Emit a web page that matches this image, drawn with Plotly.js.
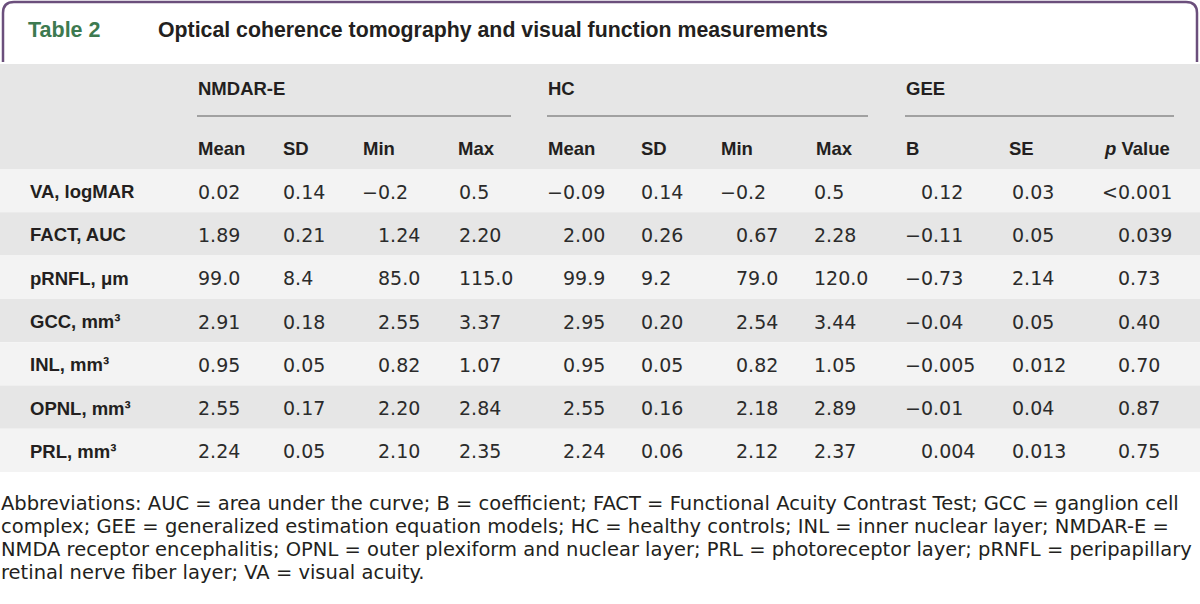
<!DOCTYPE html>
<html><head><meta charset="utf-8">
<script src="https://cdn.plot.ly/plotly-3.0.1.min.js"></script>
<style>html,body{margin:0;padding:0;background:#fff}#chart{width:1200px;height:604px}</style>
</head><body><div id="chart"></div>
<script>
// ---- data ----
const tableNumber = "Table 2";
const tableTitle = "Optical coherence tomography and visual function measurements";
const groupLabels = ["NMDAR-E", "HC", "GEE"];
const columnLabels = ["Mean", "SD", "Min", "Max", "Mean", "SD", "Min", "Max", "B", "SE", "<i>p</i> Value"];
const rowLabels = ["VA, logMAR", "FACT, AUC", "pRNFL, μm", "GCC, mm³", "INL, mm³", "OPNL, mm³", "PRL, mm³"];
const nmdarMean = ["0.02", "1.89", "99.0", "2.91", "0.95", "2.55", "2.24"];
const nmdarSD   = ["0.14", "0.21", "8.4", "0.18", "0.05", "0.17", "0.05"];
const nmdarMin  = ["−0.2", "1.24", "85.0", "2.55", "0.82", "2.20", "2.10"];
const nmdarMax  = ["0.5", "2.20", "115.0", "3.37", "1.07", "2.84", "2.35"];
const hcMean    = ["−0.09", "2.00", "99.9", "2.95", "0.95", "2.55", "2.24"];
const hcSD      = ["0.14", "0.26", "9.2", "0.20", "0.05", "0.16", "0.06"];
const hcMin     = ["−0.2", "0.67", "79.0", "2.54", "0.82", "2.18", "2.12"];
const hcMax     = ["0.5", "2.28", "120.0", "3.44", "1.05", "2.89", "2.37"];
const geeB      = ["0.12", "−0.11", "−0.73", "−0.04", "−0.005", "−0.01", "0.004"];
const geeSE     = ["0.03", "0.05", "2.14", "0.05", "0.012", "0.04", "0.013"];
const geeP      = ["<0.001", "0.039", "0.73", "0.40", "0.70", "0.87", "0.75"];
const footnoteLines = [
  "Abbreviations: AUC = area under the curve; B = coefficient; FACT = Functional Acuity Contrast Test; GCC = ganglion cell",
  "complex; GEE = generalized estimation equation models; HC = healthy controls; INL = inner nuclear layer; NMDAR-E =",
  "NMDA receptor encephalitis; OPNL = outer plexiform and nuclear layer; PRL = photoreceptor layer; pRNFL = peripapillary",
  "retinal nerve fiber layer; VA = visual acuity."
];
const columns = [nmdarMean, nmdarSD, nmdarMin, nmdarMax, hcMean, hcSD, hcMin, hcMax, geeB, geeSE, geeP];

// ---- layout constants ----
const W = 1200, H = 604;
const colX = [197, 282, 377, 458, 562, 640, 735, 813, 920, 1011, 1117];
const headX = [197, 282, 362, 457, 547, 640, 720, 815, 905, 1008, 1171];
const groupX = [197, 547, 905];
const groupLineEnd = [511, 868, 1174];
const headerTop = 64, headerBottom = 169, rowH = 43.3;
const hang = 16; // width of leading minus / less-than sign
const dark = "#231f20", numColor = "#2b2b2b";
const boldFont = {family: "Liberation Sans, Arial, sans-serif", size: 18.5, color: dark};
const numFont = {family: "DejaVu Sans, sans-serif", size: 19, color: numColor};

function esc(s) { return s.replace(/</g, "&lt;"); }

const annotations = [];
const shapes = [];

// title box border
shapes.push({type: "path", xref: "x", yref: "y",
  path: "M 3 62 L 3 13 Q 3 2 14 2 L 1186 2 Q 1197 2 1197 13 L 1197 62",
  line: {color: "#6b4f7c", width: 2.5}});
annotations.push({x: 27, y: 30, text: "<b>" + tableNumber + "</b>",
  font: {family: "Liberation Sans, Arial, sans-serif", size: 21.5, color: "#3d7a50"}});
annotations.push({x: 157, y: 30, text: "<b>" + tableTitle + "</b>",
  font: {family: "Liberation Sans, Arial, sans-serif", size: 21.3, color: dark}});

// header background
shapes.push({type: "rect", xref: "x", yref: "y", x0: 0, x1: W, y0: headerTop, y1: headerBottom,
  fillcolor: "#e6e6e6", line: {width: 0}, layer: "below"});
groupLabels.forEach((g, i) => {
  annotations.push({x: groupX[i], y: 88, text: "<b>" + g + "</b>", font: boldFont});
  shapes.push({type: "line", xref: "x", yref: "y", x0: groupX[i], x1: groupLineEnd[i], y0: 116, y1: 116,
    line: {color: "#8a8a8a", width: 1.6}});
});
columnLabels.forEach((c, j) => {
  annotations.push({x: headX[j], y: 148, text: "<b>" + c + "</b>", font: boldFont,
    xanchor: j === columnLabels.length - 1 ? "right" : "left"});
});

// body rows
rowLabels.forEach((r, i) => {
  const y0 = headerBottom + i * rowH, yc = y0 + rowH / 2 + 1;
  shapes.push({type: "rect", xref: "x", yref: "y", x0: 0, x1: W, y0: y0, y1: y0 + rowH,
    fillcolor: i % 2 === 0 ? "#f3f3f3" : "#e6e6e6", line: {width: 0}, layer: "below"});
  annotations.push({x: 29, y: yc, text: "<b>" + r + "</b>", font: boldFont});
  columns.forEach((col, j) => {
    const v = col[i];
    const lead = v.charAt(0) === "−" || v.charAt(0) === "<";
    annotations.push({x: colX[j], y: yc, text: esc(v), font: numFont, xshift: lead ? -hang : 0});
  });
});

// footnote
footnoteLines.forEach((t, i) => {
  annotations.push({x: 0, y: 503 + i * 23, text: t,
    font: {family: "DejaVu Sans, sans-serif", size: 19.5, color: dark}});
});

annotations.forEach(a => {
  a.xref = "x"; a.yref = "y"; a.showarrow = false;
  if (!a.xanchor) a.xanchor = "left";
  a.yanchor = "middle"; a.borderpad = 0;
});

const axis = {visible: false, showgrid: false, zeroline: false, fixedrange: true};
Plotly.newPlot("chart", [{type: "scatter", x: [], y: [], mode: "markers", hoverinfo: "skip"}], {
  width: W, height: H,
  margin: {l: 0, r: 0, t: 0, b: 0},
  paper_bgcolor: "#ffffff", plot_bgcolor: "#ffffff",
  xaxis: Object.assign({range: [0, W]}, axis),
  yaxis: Object.assign({range: [H, 0]}, axis),
  showlegend: false,
  annotations: annotations,
  shapes: shapes
}, {displayModeBar: false, staticPlot: true});
</script>
</body></html>
